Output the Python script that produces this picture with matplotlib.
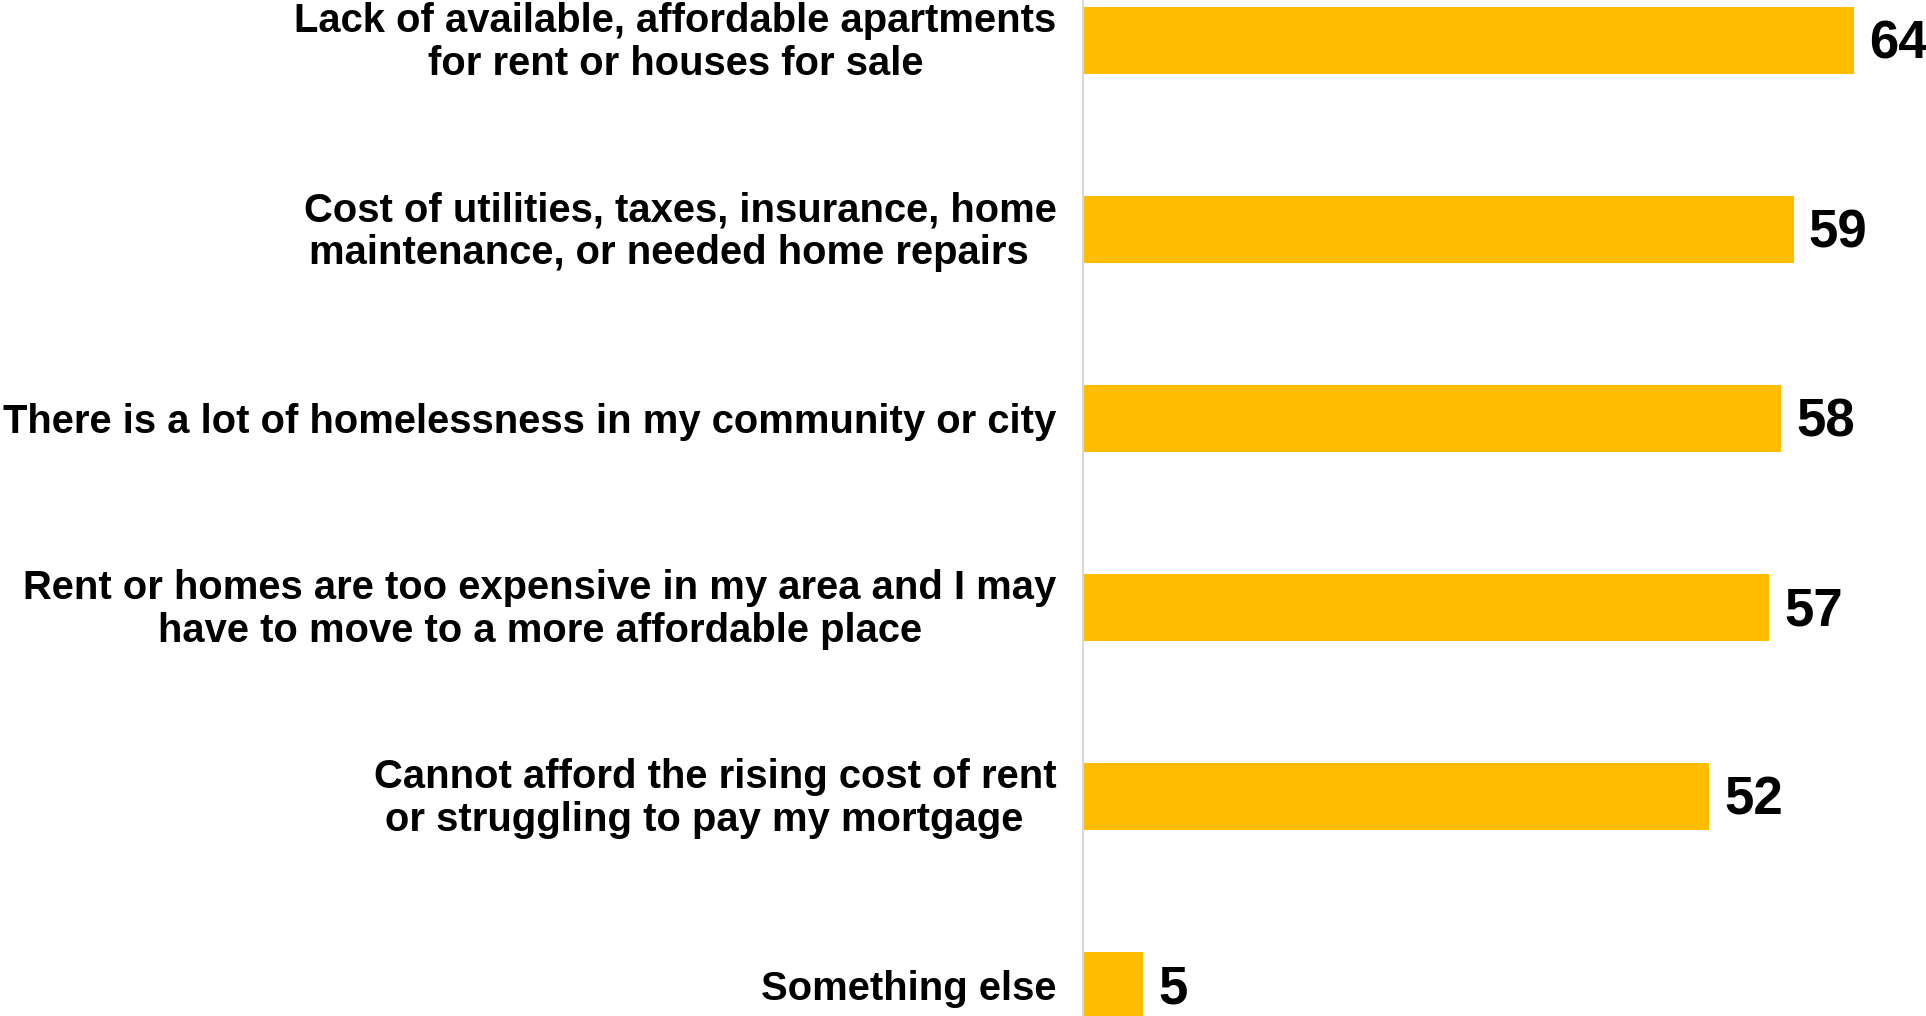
import matplotlib.pyplot as plt
import numpy as np

plt.rcParams['font.family'] = ['Liberation Sans', 'DejaVu Sans']
plt.rcParams['font.weight'] = 'bold'

categories = [
    'Lack of available, affordable apartments\nfor rent or houses for sale',
    'Cost of utilities, taxes, insurance, home\nmaintenance, or needed home repairs  ',
    'There is a lot of homelessness in my community or city',
    'Rent or homes are too expensive in my area and I may\nhave to move to a more affordable place',
    'Cannot afford the rising cost of rent\nor struggling to pay my mortgage  ',
    'Something else',
]
values = [64, 59, 58, 57, 52, 5]

bar_color = '#FFBC00'

fig = plt.figure(figsize=(19.26, 10.16), dpi=100)
ax = fig.add_axes([1083 / 1926, 0, 843 / 1926, 1])

y = np.arange(len(values))
ax.barh(y, values, height=0.354, color=bar_color)

ax.set_xlim(0, 70)
ax.set_ylim(5 + 30.5 / 189, -40.5 / 189)

for yi, v in zip(y, values):
    ax.annotate(str(v), (v, yi), xytext=(11, -3), textcoords='offset points',
                va='center', ha='left', fontsize=38, fontweight='bold', color='black')

# category labels, drawn as text so two-line ones can be nudged up a bit
for yi, cat in zip(y, categories):
    dy = 3 if '\n' in cat else 0
    ax.annotate(cat, (0, yi), xytext=(-19, dy), textcoords='offset points',
                va='center_baseline', ha='right', multialignment='center',
                fontsize=28.8, fontweight='bold', linespacing=1.16,
                annotation_clip=False)

ax.set_yticks([])
ax.set_xticks([])

for side in ['top', 'right', 'bottom']:
    ax.spines[side].set_visible(False)
ax.spines['left'].set_color('#d9d9d9')
ax.spines['left'].set_linewidth(1.5)

fig.savefig('out.png', dpi=100)
